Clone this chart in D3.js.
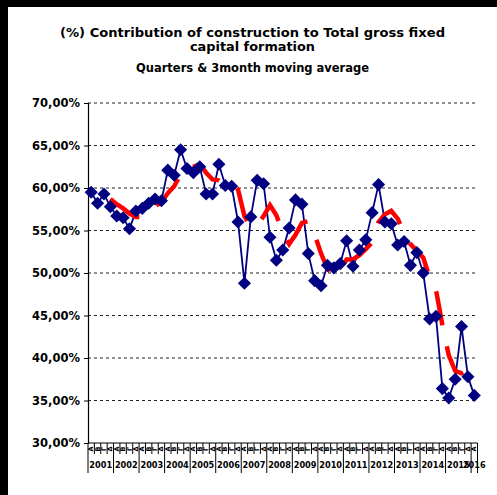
<!DOCTYPE html>
<html>
<head>
<meta charset="utf-8">
<script src="https://cdn.jsdelivr.net/npm/d3@7"></script>
<style>
  body { margin: 0; background: #fff; }
  svg { display: block; }
  text { font-family: "DejaVu Sans", Verdana, sans-serif; font-weight: bold; fill: #000; }
</style>
</head>
<body>
<div id="chart"></div>
<script>
// chart data
var years = ["2001","2002","2003","2004","2005","2006","2007","2008","2009","2010","2011","2012","2013","2014","2015","2016"];
var quarterNames = ["Α","Β","Γ","Δ"];
var titleLines = ["(%) Contribution of construction to Total gross fixed", "capital formation", "Quarters & 3month moving average"];
var yTicks = [30, 35, 40, 45, 50, 55, 60, 65, 70];

// quarterly share (%), 2001 Q1 .. 2016 Q1
var shareValues = [
  59.5, 58.2, 59.3, 57.8, 56.7, 56.5, 55.2, 57.3, 57.6, 58.2,
  58.7, 58.5, 62.1, 61.5, 64.5, 62.3, 61.8, 62.5, 59.3, 59.3,
  62.8, 60.3, 60.2, 56.0, 48.8, 56.6, 60.9, 60.5, 54.2, 51.5,
  52.7, 55.3, 58.6, 58.1, 52.3, 49.1, 48.5, 50.9, 50.6, 51.1,
  53.8, 50.8, 52.7, 53.9, 57.1, 60.4, 56.0, 55.8, 53.3, 53.7,
  50.9, 52.4, 50.0, 44.6, 44.9, 36.4, 35.3, 37.5, 43.7, 37.8,
  35.6
];
// moving average (red dashed), starts at 2001 Q4
var movingAvg = [
  null, null, null, 58.7, 58.1, 57.6, 57.0, 56.6, 56.6, 57.1,
  57.9, 58.3, 59.4, 60.2, 61.6, 62.6, 62.5, 62.8, 61.8, 61.0,
  60.9, 60.4, 60.6, 59.8, 56.7, 55.4, 55.6, 56.7, 58.0, 56.8,
  54.7, 53.4, 54.5, 55.9, 56.1, 54.5, 52.3, 50.5, 49.8, 50.3,
  51.6, 51.6, 52.1, 52.8, 53.6, 56.0, 56.9, 57.3, 56.4, 54.7,
  53.4, 52.6, 51.8, 49.5, 48.0, 43.9, 40.3, 38.5, 38.2, 38.6,
  38.6
];

var W = 497, H = 495;
var plot = {left: 88, right: 477.5, top: 103, bottom: 443};

var cats = shareValues.map((d, i) => years[Math.floor(i / 4)] + "-" + quarterNames[i % 4]);

var svg = d3.select("#chart").append("svg").attr("width", W).attr("height", H);
svg.append("rect").attr("width", W).attr("height", H).attr("fill", "#fff");

// frame (thick top and left edge)
svg.append("rect").attr("x", 0).attr("y", 0).attr("width", W).attr("height", 7).attr("fill", "#000");
svg.append("rect").attr("x", 0).attr("y", 0).attr("width", 8).attr("height", H).attr("fill", "#000");

// title
var tWidths = [385, 125, 233], tBase = [36.5, 50.5, 71.5];
svg.selectAll(".title").data(titleLines).enter().append("text")
  .attr("class", "title")
  .attr("x", 252.5).attr("y", (d, i) => tBase[i])
  .attr("text-anchor", "middle")
  .attr("font-size", 13)
  .attr("textLength", (d, i) => tWidths[i]).attr("lengthAdjust", "spacingAndGlyphs")
  .text(d => d);

var xScale = d3.scaleBand().domain(cats).range([plot.left, plot.right]).padding(0);
var yScale = d3.scaleLinear().domain([30, 70]).range([plot.bottom, plot.top]);
var xc = c => xScale(c) + xScale.bandwidth() / 2;

// dashed gridlines
svg.append("g").selectAll("line").data(yTicks.filter(v => v > 30)).enter().append("line")
  .attr("x1", plot.left).attr("x2", plot.right)
  .attr("y1", d => yScale(d)).attr("y2", d => yScale(d))
  .attr("stroke", "#222").attr("stroke-width", 1).attr("stroke-dasharray", "3,3");

// y axis
var yAxis = d3.axisLeft(yScale).tickValues(yTicks).tickSize(4).tickPadding(4)
  .tickFormat(d => d.toFixed(2).replace(".", ",") + "%");
var gy = svg.append("g").attr("transform", `translate(${plot.left},0)`).call(yAxis);
gy.select(".domain").attr("stroke", "#000").attr("stroke-width", 1.2);
gy.selectAll(".tick line").attr("stroke", "#000");
gy.selectAll("text").attr("font-size", 11.5).attr("font-family", "DejaVu Sans").attr("font-weight", "bold").attr("fill", "#000");

// x axis: baseline, quarter ticks, year separators
var gx = svg.append("g");
gx.append("line").attr("x1", plot.left).attr("x2", plot.right).attr("y1", plot.bottom).attr("y2", plot.bottom)
  .attr("stroke", "#000").attr("stroke-width", 1.2);
gx.selectAll(".qtick").data(cats).enter().append("line")
  .attr("x1", d => xScale(d)).attr("x2", d => xScale(d))
  .attr("y1", plot.bottom).attr("y2", (d, i) => i % 4 == 0 ? 473 : 454)
  .attr("stroke", "#000").attr("stroke-width", 1);
gx.append("line").attr("x1", plot.right).attr("x2", plot.right).attr("y1", plot.bottom).attr("y2", 473)
  .attr("stroke", "#000").attr("stroke-width", 1);
gx.selectAll(".qlab").data(cats).enter().append("text")
  .attr("transform", d => `translate(${xc(d)},449) rotate(-90)`)
  .attr("text-anchor", "middle").attr("dominant-baseline", "central")
  .attr("font-size", 6.5)
  .text(d => d.split("-")[1]);
gx.selectAll(".ylab").data(years).enter().append("text")
  .attr("x", (d, i) => {
    var first = cats.filter(c => c.startsWith(d));
    var a = xScale(first[0]), b = xScale(first[first.length - 1]) + xScale.bandwidth();
    return (a + b) / 2;
  })
  .attr("y", 468).attr("text-anchor", "middle").attr("font-size", 8.2)
  .text(d => d);

// blue quarterly series
var line = d3.line().x((d, i) => xc(cats[i])).y(d => yScale(d));
svg.append("path").attr("d", line(shareValues))
  .attr("fill", "none").attr("stroke", "#000080").attr("stroke-width", 1.8);

// red moving average, long dashes
var maLine = d3.line().defined(d => d != null).x((d, i) => xc(cats[i])).y(d => yScale(d));
var maPath = svg.append("path").attr("d", maLine(movingAvg))
  .attr("fill", "none").attr("stroke", "#ff0000").attr("stroke-width", 4.5)
  .attr("stroke-linecap", "butt");

// fit the dash period so the 12th dash begins where it does in the original,
// a bit past the 2014 Q4 point
var node = maPath.node();
var total = node.getTotalLength();
var lengthAtX = function(x) {
  var lo = 0, hi = total;
  for (var k = 0; k < 40; k++) {
    var mid = (lo + hi) / 2;
    if (node.getPointAtLength(mid).x < x) lo = mid; else hi = mid;
  }
  return lo;
};
var anchorX = xc(cats[55]) + 0.7 * xScale.bandwidth();
var period = lengthAtX(anchorX) / 11;
maPath.attr("stroke-dasharray", (period * 0.62).toFixed(2) + "," + (period * 0.38).toFixed(2));

// diamond markers
var diamond = d3.symbol().type(d3.symbolSquare).size(86);
svg.append("g").selectAll("path").data(shareValues).enter().append("path")
  .attr("d", diamond)
  .attr("transform", (d, i) => `translate(${xc(cats[i])},${yScale(d)}) rotate(45)`)
  .attr("fill", "#000080");
</script>
</body>
</html>
